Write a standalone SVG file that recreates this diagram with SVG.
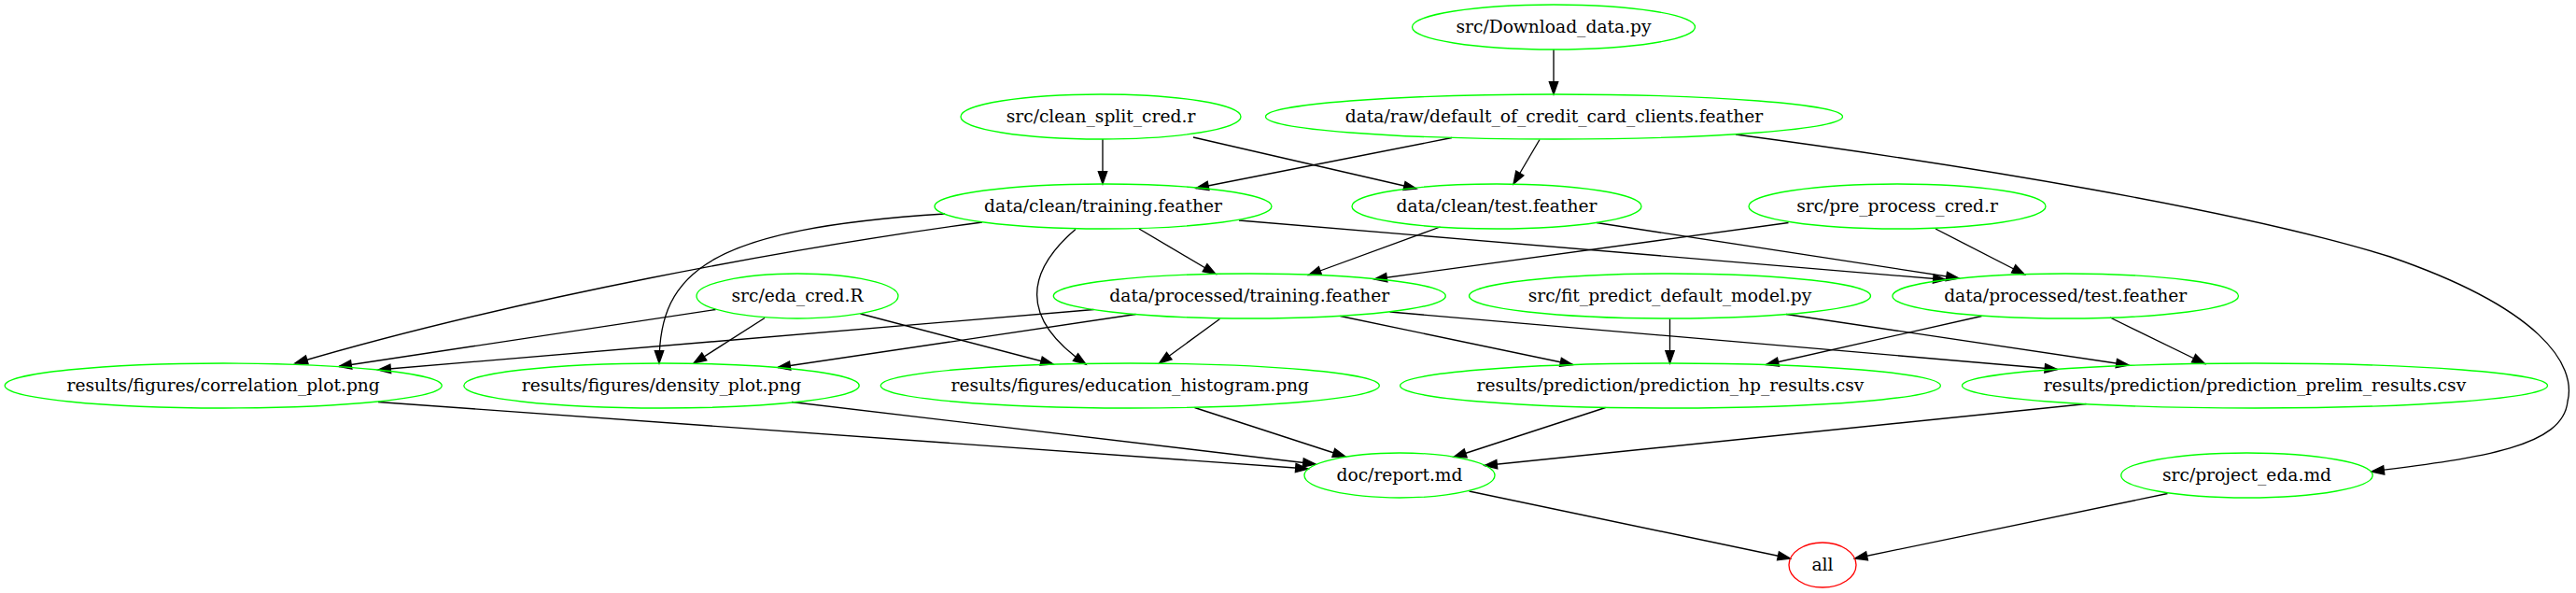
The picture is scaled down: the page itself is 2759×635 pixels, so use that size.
<svg xmlns="http://www.w3.org/2000/svg" width="2759" height="635" viewBox="0 0 2759 635">
<style>
.n ellipse{fill:none;stroke:#00ff00;stroke-width:1.33}
.n.red ellipse{stroke:#ff0000}
.n text{font-family:"DejaVu Serif","Liberation Serif",serif;font-size:18.67px;text-anchor:middle;fill:#000}
.e path{fill:none;stroke:#000;stroke-width:1.33;marker-end:url(#arr)}
</style>
<defs>
<marker id="arr" markerUnits="userSpaceOnUse" markerWidth="16" markerHeight="12" refX="13.33" refY="4.67" orient="auto" overflow="visible">
<path d="M0,0 L13.33,4.67 L0,9.33 Z" fill="#000" stroke="#000" stroke-width="1.33"/>
</marker>
</defs>
<rect width="2759" height="635" fill="#fff"/>
<g id="edges" class="e">
<path d="M1664,53 L1664,101"/>
<path d="M1181,149 L1181,197"/>
<path d="M1278,147 L1517,202"/>
<path d="M1555,147.5 L1281,201.5"/>
<path d="M1649,149.5 L1621,197"/>
<path d="M1859,144 C2100,176 2400,225 2560,275 C2720,330 2760,390 2750,430 C2745,478 2660,490 2540,505"/>
<path d="M1052,238 C850,265 550,320 316,389"/>
<path d="M1012,229 C760,245 706,290 706,389"/>
<path d="M1152,245.5 C1100,290 1090,340 1163,390"/>
<path d="M1220,245 L1302,293.5"/>
<path d="M1327,236 L2084,299.5"/>
<path d="M1542.5,243 L1401.5,294.5"/>
<path d="M1710,238.5 L2098,298"/>
<path d="M1915.5,238.5 L1472,299"/>
<path d="M2073,245 L2168.5,294"/>
<path d="M766.5,331.5 L363,392.5"/>
<path d="M819,340.5 L743,389"/>
<path d="M921.5,336 L1128,390"/>
<path d="M1171.5,331.5 L405,396"/>
<path d="M1216.5,336.5 L833,393.5"/>
<path d="M1306.5,341.5 L1241.5,389"/>
<path d="M1435.5,338.5 L1684.5,390.5"/>
<path d="M1488.5,334 L2203.5,395.5"/>
<path d="M1788.5,341.5 L1788.5,389"/>
<path d="M1913,336.5 L2280,391"/>
<path d="M2122.5,338.5 L1891.5,390.5"/>
<path d="M2260,340 L2361.5,389.5"/>
<path d="M405,430.5 L1401,502"/>
<path d="M848,430.5 L1409,497"/>
<path d="M1279.5,436.5 L1441,489"/>
<path d="M1719.5,436.5 L1557,489.5"/>
<path d="M2234.5,432.5 L1590,498.5"/>
<path d="M1573.5,526 L1917.5,598"/>
<path d="M2321.5,528.5 L1986.5,598"/>
</g>
<g id="n_download" class="n"><ellipse cx="1664" cy="29" rx="151.5" ry="24"/><text x="1664" y="34.5">src/Download_data.py</text></g>
<g id="n_raw" class="n"><ellipse cx="1664.5" cy="125" rx="309" ry="24"/><text x="1664.5" y="130.5">data/raw/default_of_credit_card_clients.feather</text></g>
<g id="n_clean_split" class="n"><ellipse cx="1179" cy="125" rx="150" ry="24"/><text x="1179" y="130.5">src/clean_split_cred.r</text></g>
<g id="n_clean_training" class="n"><ellipse cx="1181.5" cy="221" rx="180.5" ry="24"/><text x="1181.5" y="226.5">data/clean/training.feather</text></g>
<g id="n_clean_test" class="n"><ellipse cx="1603" cy="221" rx="155" ry="24"/><text x="1603" y="226.5">data/clean/test.feather</text></g>
<g id="n_pre_process" class="n"><ellipse cx="2032" cy="221" rx="159" ry="24"/><text x="2032" y="226.5">src/pre_process_cred.r</text></g>
<g id="n_eda_cred" class="n"><ellipse cx="854" cy="317" rx="108" ry="24"/><text x="854" y="322.5">src/eda_cred.R</text></g>
<g id="n_proc_training" class="n"><ellipse cx="1338.3" cy="317" rx="210" ry="24"/><text x="1338.3" y="322.5">data/processed/training.feather</text></g>
<g id="n_fit_predict" class="n"><ellipse cx="1788.5" cy="317" rx="215" ry="24"/><text x="1788.5" y="322.5">src/fit_predict_default_model.py</text></g>
<g id="n_proc_test" class="n"><ellipse cx="2212.2" cy="317" rx="185.3" ry="24"/><text x="2212.2" y="322.5">data/processed/test.feather</text></g>
<g id="n_correlation" class="n"><ellipse cx="239.2" cy="413" rx="234" ry="24"/><text x="239.2" y="418.5">results/figures/correlation_plot.png</text></g>
<g id="n_density" class="n"><ellipse cx="708.5" cy="413" rx="211.7" ry="24"/><text x="708.5" y="418.5">results/figures/density_plot.png</text></g>
<g id="n_education" class="n"><ellipse cx="1210.3" cy="413" rx="267" ry="24"/><text x="1210.3" y="418.5">results/figures/education_histogram.png</text></g>
<g id="n_hp" class="n"><ellipse cx="1789" cy="413" rx="289.4" ry="24"/><text x="1789" y="418.5">results/prediction/prediction_hp_results.csv</text></g>
<g id="n_prelim" class="n"><ellipse cx="2415" cy="413" rx="313.5" ry="24"/><text x="2415" y="418.5">results/prediction/prediction_prelim_results.csv</text></g>
<g id="n_report" class="n"><ellipse cx="1499" cy="509" rx="102" ry="24"/><text x="1499" y="514.5">doc/report.md</text></g>
<g id="n_project_eda" class="n"><ellipse cx="2406.5" cy="509" rx="134.7" ry="24"/><text x="2406.5" y="514.5">src/project_eda.md</text></g>
<g id="n_all" class="n red"><ellipse cx="1952" cy="605" rx="36" ry="24"/><text x="1952" y="610.5">all</text></g>
</svg>
